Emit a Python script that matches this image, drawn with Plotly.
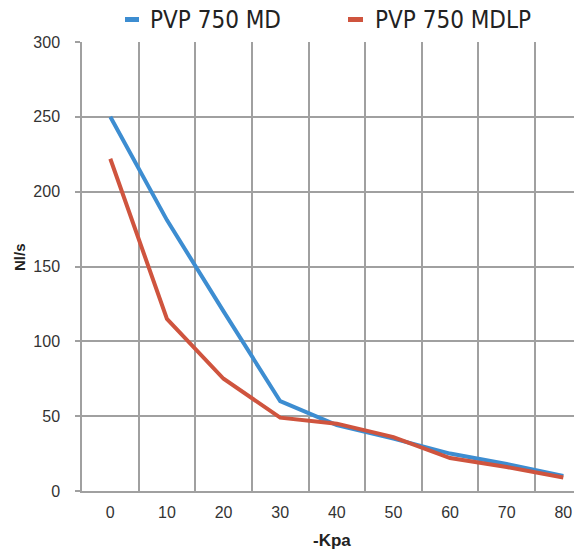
import plotly.graph_objects as go

categories = ["0", "10", "20", "30", "40", "50", "60", "70", "80"]
md_values = [250, 181, 120, 60, 44, 35, 25, 18, 10]
mdlp_values = [222, 115, 75, 49, 45, 36, 22, 16, 9]
series_names = ["PVP 750 MD", "PVP 750 MDLP"]
colors = ["#3d8dd1", "#cf543e"]
y_ticks = [0, 50, 100, 150, 200, 250, 300]

# page body has an 8px margin; figure is sized so it fills the window
OFF = 8
W, H = 582 - OFF, 554 - OFF
ML, MR, MT, MB = 82 - OFF, 0, 42 - OFF, 63
PW, PH = W - ML - MR, H - MT - MB

def px_x(x):
    return (x - OFF - ML) / PW

def px_y(y):
    return (H - MB - (y - OFF)) / PH

fig = go.Figure()
for name, vals, col in zip(series_names, [md_values, mdlp_values], colors):
    fig.add_trace(go.Scatter(x=categories, y=vals, mode="lines", name=name,
                             line=dict(color=col, width=4), showlegend=False))

grid = "#a0a0a0"
fig.update_layout(
    width=W, height=H,
    margin=dict(l=ML, r=MR, t=MT, b=MB),
    paper_bgcolor="white", plot_bgcolor="white",
    font=dict(family="Liberation Sans, Arial, sans-serif", size=16, color="#333333"),
    xaxis=dict(type="category", categoryorder="array", categoryarray=categories,
               tickson="boundaries", showgrid=True, gridcolor=grid, gridwidth=1.5,
               showline=True, linecolor=grid, linewidth=1.5, ticks="",
               range=[-0.5, 8.33], ticklabelstandoff=6),
    yaxis=dict(range=[0, 300], tickvals=y_ticks, showgrid=True, gridcolor=grid,
               gridwidth=1.5, showline=True, linecolor=grid, linewidth=1.5,
               ticks="outside", ticklen=5, tickcolor=grid, tickwidth=1.5,
               zeroline=False, ticklabelstandoff=12),
)

# axis titles
fig.add_annotation(text="<b>-Kpa</b>", xref="paper", yref="paper",
                   x=0.5, y=px_y(540), xanchor="center", yanchor="middle",
                   showarrow=False, font=dict(size=17, color="#222222"))
fig.add_annotation(text="<b>Nl/s</b>", xref="paper", yref="paper",
                   x=px_x(19), y=px_y(257), xanchor="center", yanchor="middle",
                   textangle=-90, showarrow=False, font=dict(size=15, color="#222222"))

# manual legend
legend_sym_x = [(125, 139), (348, 363)]
legend_txt_x = [148, 373]
for (x0, x1), tx, name, col in zip(legend_sym_x, legend_txt_x, series_names, colors):
    fig.add_shape(type="rect", xref="paper", yref="paper",
                  x0=px_x(x0), x1=px_x(x1), y0=px_y(22), y1=px_y(17),
                  fillcolor=col, line=dict(width=0))
    fig.add_annotation(text=name, xref="paper", yref="paper",
                       x=px_x(tx), y=px_y(19.5), xanchor="left", yanchor="middle",
                       showarrow=False,
                       font=dict(family="DejaVu Sans Condensed, Liberation Sans Narrow, sans-serif",
                                 size=24, color="#222222"))

fig.write_html("out.html")
